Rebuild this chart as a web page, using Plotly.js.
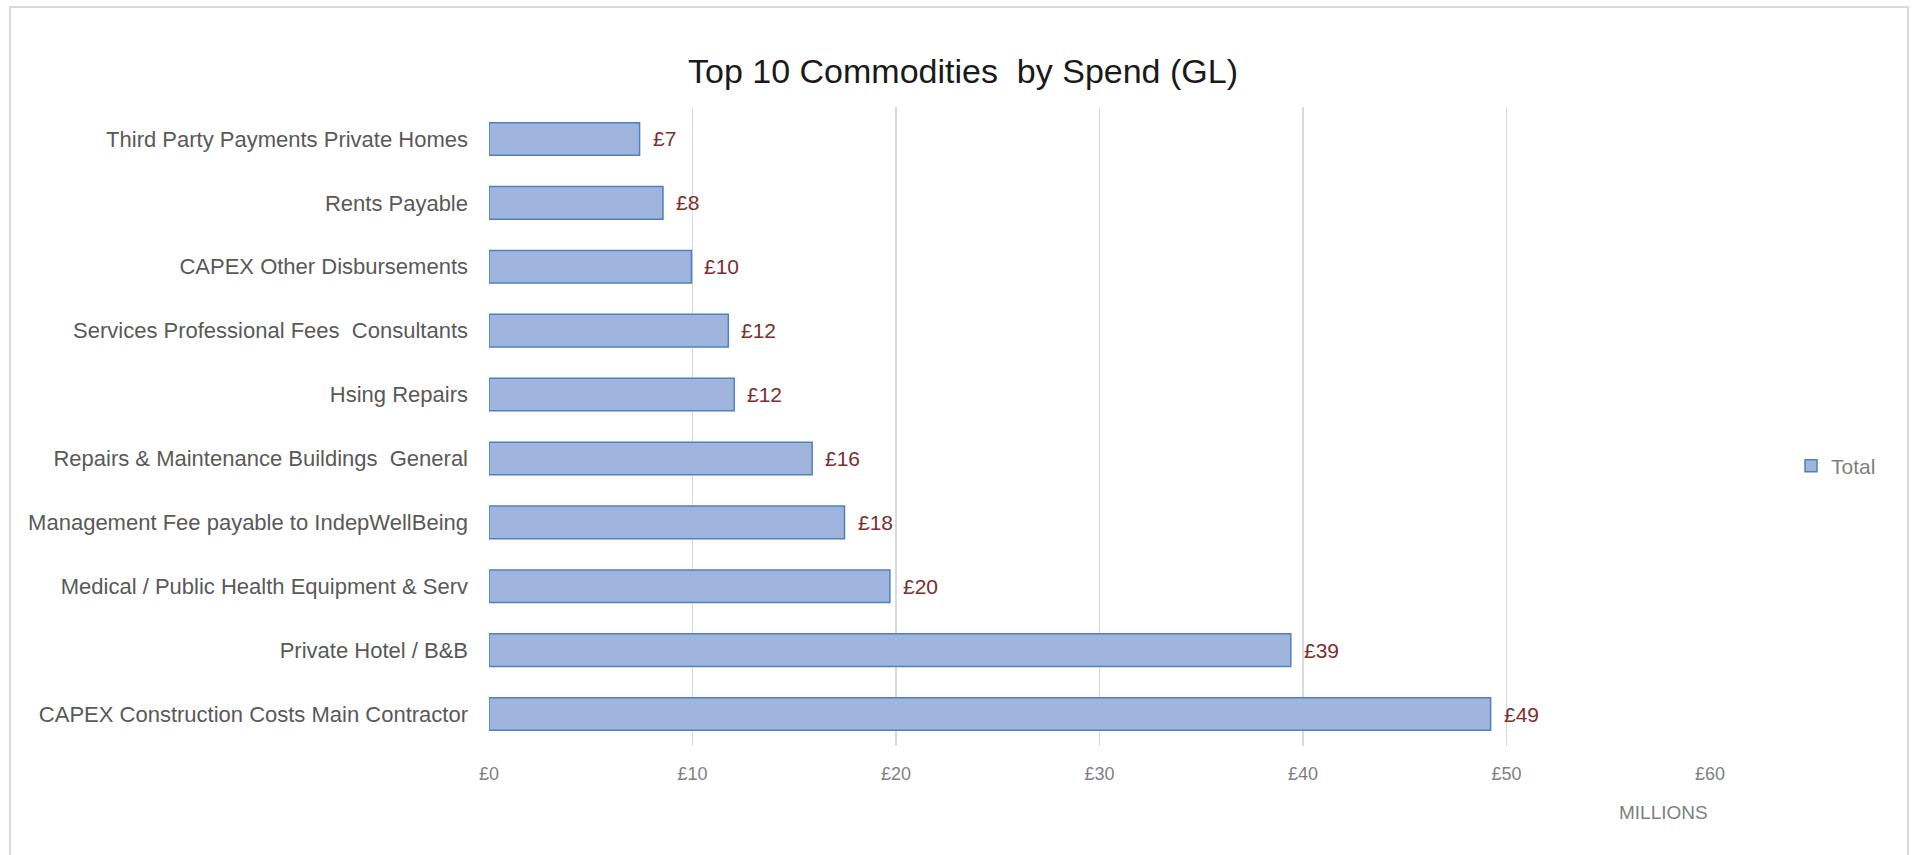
<!DOCTYPE html>
<html>
<head>
<meta charset="utf-8">
<script src="https://cdn.plot.ly/plotly-3.0.1.min.js"></script>
<style>
  html, body { margin: 0; padding: 0; background: #ffffff; }
  #chart { width: 1912px; height: 855px; }
</style>
</head>
<body>
<div id="chart"></div>
<script>
// ---- data (top to bottom as shown) ----
const categories = [
  "Third Party Payments Private Homes",
  "Rents Payable",
  "CAPEX Other Disbursements",
  "Services Professional Fees  Consultants",
  "Hsing Repairs",
  "Repairs & Maintenance Buildings  General",
  "Management Fee payable to IndepWellBeing",
  "Medical / Public Health Equipment & Serv",
  "Private Hotel / B&B",
  "CAPEX Construction Costs Main Contractor"
];
const spendMillions = [7.4, 8.55, 9.95, 11.76, 12.05, 15.88, 17.47, 19.7, 39.4, 49.22];
const valueLabels = ["£7", "£8", "£10", "£12", "£12", "£16", "£18", "£20", "£39", "£49"];
const tickValues = [0, 10, 20, 30, 40, 50, 60];
const tickLabels = ["£0", "£10", "£20", "£30", "£40", "£50", "£60"];
const seriesName = "Total";
const chartTitle = "Top 10 Commodities  by Spend (GL)";
const axisUnit = "MILLIONS";

// ---- geometry (pixels in 1912x855) ----
const W = 1912, H = 855;
const plotL = 489, plotR = 1710, plotT = 107, plotB = 746;
const FONT = "Liberation Sans, Arial, sans-serif";

const trace = {
  type: "bar",
  orientation: "h",
  name: seriesName,
  y: categories,
  x: spendMillions,
  marker: {
    color: "#9fb5dd",
    line: { color: "#4f81bd", width: 1.5 }
  },
  hoverinfo: "x+y",
  showlegend: true
};

const annotations = categories.map((c, i) => ({
  x: spendMillions[i], y: c, xref: "x", yref: "y",
  text: valueLabels[i], showarrow: false,
  xanchor: "left", yanchor: "middle", xshift: 11,
  font: { family: FONT, size: 21, color: "#7b2e2e" }
}));
annotations.push({
  x: plotR / W, y: 1 - 812 / H, xref: "paper", yref: "paper",
  text: axisUnit, showarrow: false, xanchor: "right", yanchor: "middle",
  font: { family: FONT, size: 19, color: "#7f7f7f" }
});

const layout = {
  width: W, height: H,
  paper_bgcolor: "#ffffff", plot_bgcolor: "#ffffff",
  margin: { l: 0, r: 0, t: 0, b: 0 },
  font: { family: FONT, color: "#595959" },
  title: {
    text: chartTitle,
    x: 963 / W, xanchor: "center",
    y: 1 - 71 / H, yanchor: "middle",
    font: { family: FONT, size: 34, color: "#1a1a1a" }
  },
  bargap: 0.49,
  xaxis: {
    domain: [plotL / W, plotR / W],
    range: [0, 60],
    tickvals: tickValues, ticktext: tickLabels,
    showgrid: true, gridcolor: "#d9d9d9", gridwidth: 1.3,
    zeroline: false, showline: false, ticks: "",
    ticklabelstandoff: 15,
    tickfont: { family: FONT, size: 18, color: "#7f7f7f" },
    fixedrange: true
  },
  yaxis: {
    domain: [1 - plotB / H, 1 - plotT / H],
    type: "category",
    autorange: "reversed",
    showgrid: false, zeroline: false, showline: false, ticks: "",
    ticklabelstandoff: 20,
    tickfont: { family: FONT, size: 22, color: "#595959" },
    fixedrange: true
  },
  showlegend: true,
  legend: {
    x: 1791 / W, xanchor: "left",
    y: 1 - 466 / H, yanchor: "middle",
    bgcolor: "rgba(0,0,0,0)",
    itemwidth: 30,
    font: { family: FONT, size: 21, color: "#7f7f7f" }
  },
  shapes: [
    {
      type: "rect", xref: "paper", yref: "paper",
      x0: 10 / W, x1: 1908 / W, y0: -0.02, y1: 1 - 7 / H,
      line: { color: "#d9d9d9", width: 2 }, fillcolor: "rgba(0,0,0,0)",
      layer: "below"
    }
  ],
  annotations: annotations
};

Plotly.newPlot("chart", [trace], layout, { displayModeBar: false, staticPlot: true });
</script>
</body>
</html>
